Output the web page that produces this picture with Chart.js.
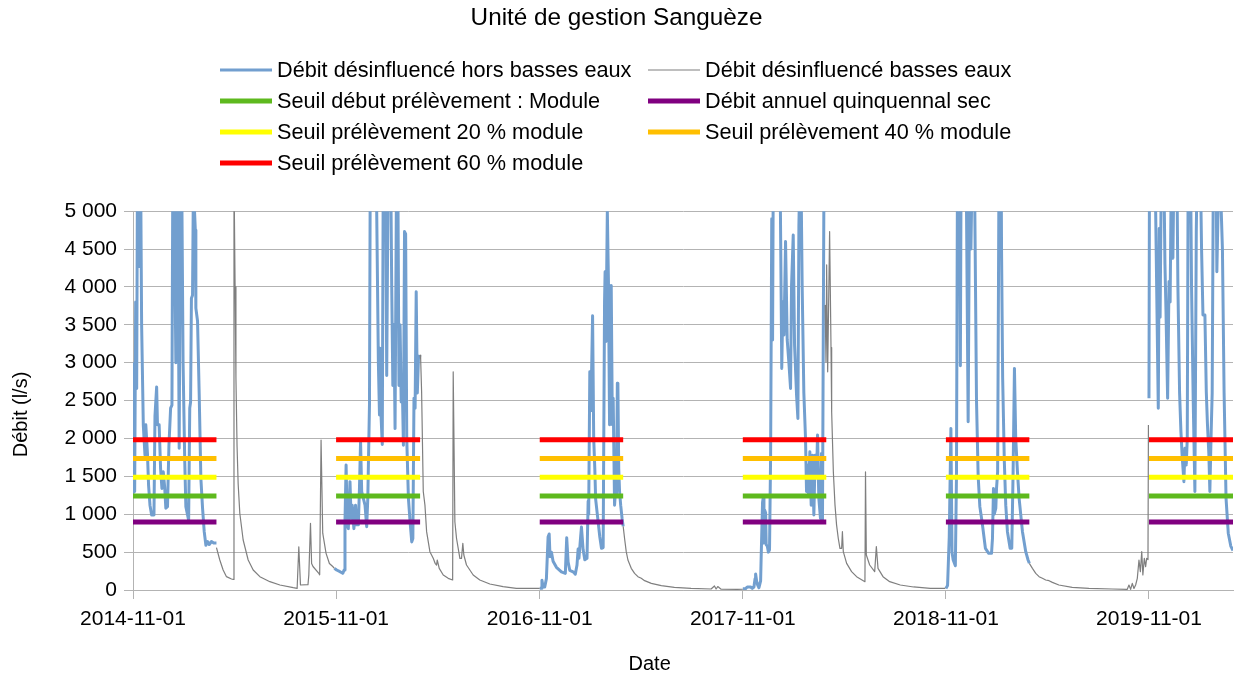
<!DOCTYPE html>
<html>
<head>
<meta charset="utf-8">
<script src="https://cdn.jsdelivr.net/npm/chart.js@4.4.1/dist/chart.umd.min.js"></script>
<style>
html,body{margin:0;padding:0;background:#fff;}
canvas{display:block;}
</style>
</head>
<body>
<canvas id="c" width="1234" height="674"></canvas>
<script>
// ---- Data (x = days since 2014-11-01, y = débit in l/s) ----
const tickDays = [0, 365, 731, 1096, 1461, 1826];
const xTickLabels = ['2014-11-01', '2015-11-01', '2016-11-01', '2017-11-01', '2018-11-01', '2019-11-01'];
const xMaxDay = 1977;

// Winter periods (hors basses eaux) : 1 Nov -> 31 Mar
const winterStarts = [0, 365, 731, 1096, 1461, 1826];
const winterEnds   = [150, 516, 881, 1246, 1611, 1977];

// Thresholds (l/s)
const seuilModule = 1240;
const seuil20 = 1488;
const seuil40 = 1736;
const seuil60 = 1984;
const debitQuinquennalSec = 897;

// Débit désinfluencé hors basses eaux (blue)
const winter2014 = [[0,1230],[1.8,2990],[3,1300],[4.8,3800],[6.6,2660],[8,5500],[10.5,4270],[12,5800],[14,5200],[15.5,3500],[18.5,2180],[21.5,1780],[23,2180],[26,1800],[28,1380],[30.5,1120],[33.5,990],[37.7,990],[39.5,2300],[42.5,2680],[44,2180],[47,2180],[49.6,1600],[52,1340],[54.4,1560],[57,1350],[59,1080],[62,1100],[64.6,1910],[67.6,2400],[70,2440],[71.8,6000],[74,5500],[77,3000],[80,6000],[83,1870],[86,6500],[88,5000],[90,3000],[93,1700],[95,1100],[100,920],[102,2400],[103.5,2480],[105,3850],[107,3890],[109,5800],[110,5100],[112,4750],[113,3720],[116,3550],[119,2570],[122,1470],[125,1080],[128,770],[131,590],[134,640],[137,600],[141,640],[145,620],[150,620]];
const winter2015 = [[362,286],[366,264],[372,242],[377,220],[379.4,264],[381,900],[383,1650],[385,860],[387,810],[390,1430],[392,945],[394,1120],[397,810],[400,1120],[402,860],[405,860],[407,1340],[409,1960],[411,1300],[414,1210],[417,1120],[420,835],[422,1210],[425,2440],[426.6,6000],[429,7000],[433,6500],[438,5000],[441,3000],[443,2310],[444,3190],[446,2265],[448,1920],[450,6000],[453,7000],[456,2830],[459,6000],[462,6500],[465,4000],[467,2700],[469,3500],[471,2130],[474,6000],[476,5500],[478,2700],[480,3500],[482,2480],[484,2700],[486,1910],[488,4730],[490,4700],[492,2000],[495,1210],[498,900],[501,635],[503,680],[505,2530],[507,2400],[509,3935],[511,2600],[513,3050],[516,3100]];
const winter2016 = [[731,22],[734,22],[735,130],[737,40],[740,40],[743,150],[746,700],[748,740],[749.5,440],[752,500],[755,380],[761,300],[770,240],[777,220],[779.5,690],[782,370],[785,260],[791,240],[795,210],[798,330],[800,540],[801.5,420],[804.5,700],[806,830],[809,530],[812,400],[816,420],[818,1170],[819,1000],[821,2880],[823,2370],[826,3620],[828,2000],[830,1600],[831.5,1200],[836,900],[839,700],[842,550],[845,560],[847.5,3800],[848.5,4200],[850,3280],[852.5,5000],[854.5,4070],[856.5,2180],[858.5,2600],[859.5,4020],[861.5,2180],[863,2530],[865.5,1120],[867.5,1340],[869,1250],[870.5,2730],[871.5,2700],[873,1600],[874.5,1300],[876.5,1120],[879,945],[881,840]];
const winter2017 = [[1096,18],[1101,18],[1104,40],[1110,40],[1113,22],[1116,40],[1118,150],[1119,210],[1121,110],[1123,60],[1125,30],[1128,120],[1129,440],[1131.5,1160],[1133,1230],[1134,620],[1135,1060],[1137,1020],[1138,600],[1140,580],[1142,500],[1144,530],[1146,1800],[1148,4900],[1149.5,3300],[1151,6000],[1154,6500],[1157,7000],[1160,6000],[1163,5500],[1166,2925],[1168,3800],[1170,3365],[1172.8,4600],[1175.8,3300],[1178.8,3000],[1181.8,2660],[1183.6,4025],[1186.6,4685],[1189,3230],[1192.6,2570],[1195,2265],[1196.8,4815],[1199.8,6000],[1202.7,4000],[1205.7,2600],[1208.7,2000],[1210.5,1300],[1212.3,1650],[1214,1253],[1216.5,1825],[1218.9,1120],[1221.3,1780],[1223.7,990],[1226,1780],[1228.5,1500],[1230.3,2045],[1232.6,1210],[1235.6,945],[1237.4,1800],[1239.2,930],[1240.4,3000],[1242.2,6000],[1244,5000]];
const winter2018 = [[1461,20],[1464,60],[1467,700],[1470,2130],[1472,500],[1474,400],[1478,320],[1480,1500],[1482,6000],[1485,6500],[1487,2960],[1488.5,6000],[1492,7000],[1497,6000],[1501,2220],[1504,6000],[1506,4500],[1509,6000],[1511,6500],[1513,5000],[1516,2500],[1519,1500],[1522,1100],[1526,900],[1532,550],[1538,484],[1543,484],[1544.7,680],[1546.5,1340],[1548,1000],[1550.7,1080],[1552,1340],[1554,1560],[1556.7,6000],[1559.7,6500],[1561,4500],[1563,2800],[1566,1700],[1568.6,1120],[1571.6,770],[1576.4,550],[1579.4,550],[1581.8,1560],[1584.2,2925],[1586.5,2000],[1589.6,1560],[1592.6,1210],[1598.6,770],[1604.5,506],[1608.7,396],[1611,352]];
const winter2019 = [[1826,2530],[1827,6000],[1835,6500],[1838,5000],[1842.7,2400],[1844.5,4770],[1846,3600],[1848.7,6000],[1852,6000],[1854.7,4300],[1856.5,3700],[1859.5,2530],[1862,4070],[1864,3800],[1866.7,6000],[1869,4380],[1871.5,6000],[1875,6500],[1878,4000],[1881,2600],[1883.4,2090],[1885.8,1750],[1888.8,1430],[1890.6,1870],[1893,1650],[1894.8,2000],[1896.6,6000],[1899.6,6500],[1902.5,4000],[1905.5,2500],[1908.5,1300],[1911,4730],[1913.3,6000],[1917.5,6000],[1920.5,4500],[1923,3630],[1926.5,3630],[1929,2617],[1931,2200],[1933.6,1800],[1935.4,1300],[1937.8,2100],[1939.6,2600],[1942,6000],[1945.6,6500],[1948,4200],[1952.8,6000],[1955,5200],[1958,4500],[1961,2600],[1964.5,1210],[1968.5,750],[1973,580],[1977,520]];

// Débit désinfluencé basses eaux (grey)
const summer2015 = [[150,560],[156,396],[162,264],[168,176],[177,145],[180,140],[181.5,5500],[183.5,4000],[185,2800],[187,1900],[189,1400],[192,1010],[198,660],[207,396],[216,264],[228,176],[246,110],[264,66],[288,31],[295,22],[298,571],[301,66],[314.5,70],[316,200],[319,880],[321,350],[323.5,310],[334,220],[335.5,200],[338,1980],[341,750],[347,484],[353,350],[359,310],[362,286]];
const summer2016 = [[516,3100],[517,3050],[518.7,2620],[521.7,1300],[524.7,1120],[527.7,770],[533.6,506],[539.6,418],[543,352],[545.6,330],[546.8,396],[550.4,286],[557.6,198],[566.5,154],[574.5,132],[575.5,2880],[578.5,900],[581.5,680],[587.5,418],[590.4,418],[592.8,616],[594.6,462],[599.4,330],[611.4,198],[623.3,132],[641.3,79],[665.2,44],[689,22],[725,22],[731,22]];
const summer2017 = [[881,840],[883.5,680],[886.5,506],[889.5,396],[895.5,286],[901.5,220],[907.5,176],[913.5,154],[919.5,123],[931.5,88],[949.5,57],[973,35],[1003,22],[1039,13],[1045,53],[1048,13],[1051,45],[1057,10],[1086,9],[1096,10]];
const summer2018 = [[1244,3760],[1245.5,3010],[1246.7,4290],[1248.5,2880],[1250.3,3800],[1252,4730],[1254.5,3200],[1255.7,2350],[1258.7,1560],[1261.7,1120],[1264.5,860],[1267.6,680],[1270.6,550],[1273.6,550],[1275,770],[1276.6,506],[1282.6,352],[1291.5,242],[1300.5,176],[1315.5,110],[1316.5,1560],[1318,462],[1324,330],[1333,242],[1336,572],[1339,286],[1348,176],[1360,110],[1379,66],[1403,40],[1433,22],[1460,22]];
const summer2019 = [[1611,352],[1616.5,286],[1622.5,220],[1628.5,176],[1634.4,154],[1640.4,132],[1646.4,123],[1652.4,101],[1664,66],[1688,35],[1718,22],[1760,13],[1787,9],[1790,66],[1793,9],[1796,88],[1799,20],[1802,66],[1805,154],[1808,396],[1810.5,242],[1813,506],[1815,198],[1817.6,418],[1820,308],[1821.8,418],[1824.2,400],[1825,2177]];

// ---- Helpers ----
const FONT = '"Liberation Sans", Arial, Helvetica, sans-serif';
function joinSeasons(list) {
  const out = [];
  list.forEach((s, i) => {
    if (i) out.push({x: s[0][0], y: null});
    s.forEach(([d, q]) => out.push({x: d, y: q}));
  });
  return out;
}
function thresholdData(v) {
  const out = [];
  winterStarts.forEach((s, i) => {
    out.push({x: s, y: v}, {x: winterEnds[i], y: v}, {x: winterEnds[i], y: null});
  });
  return out;
}
const fmtThousands = v => String(v).replace(/\B(?=(\d{3})+(?!\d))/g, ' ');

const gridLegend = {
  id: 'gridLegend',
  afterDraw(chart, args, o) {
    const ctx = chart.ctx;
    ctx.save();
    ctx.font = o.fontSize + 'px ' + FONT;
    ctx.textBaseline = 'middle';
    ctx.textAlign = 'left';
    chart.data.datasets.forEach((ds, i) => {
      const col = i % 2, row = Math.floor(i / 2);
      const x = o.columns[col], y = o.top + row * o.rowHeight;
      ctx.strokeStyle = ds.borderColor;
      ctx.lineWidth = ds.borderWidth;
      ctx.lineCap = 'butt';
      ctx.beginPath();
      ctx.moveTo(x, y);
      ctx.lineTo(x + o.lineLength, y);
      ctx.stroke();
      ctx.fillStyle = '#000';
      ctx.fillText(ds.label, x + o.lineLength + o.gap, y + 1);
    });
    ctx.restore();
  }
};

const lineBase = {pointRadius: 0, tension: 0, spanGaps: false, borderJoinStyle: 'round', fill: false};

new Chart(document.getElementById('c'), {
  type: 'line',
  data: {
    datasets: [
      {...lineBase, label: 'Débit désinfluencé hors basses eaux', data: joinSeasons([winter2014, winter2015, winter2016, winter2017, winter2018, winter2019]), borderColor: '#729fcf', borderWidth: 3, order: 10},
      {...lineBase, label: 'Débit désinfluencé basses eaux', data: joinSeasons([summer2015, summer2016, summer2017, summer2018, summer2019]), borderColor: '#7f7f7f', borderWidth: 1.2, order: 9},
      {...lineBase, label: 'Seuil début prélèvement : Module', data: thresholdData(seuilModule), borderColor: '#5eb91e', borderWidth: 5, borderCapStyle: 'butt', order: 1},
      {...lineBase, label: 'Débit annuel quinquennal sec', data: thresholdData(debitQuinquennalSec), borderColor: '#800080', borderWidth: 5, borderCapStyle: 'butt', order: 1},
      {...lineBase, label: 'Seuil prélèvement 20 % module', data: thresholdData(seuil20), borderColor: '#ffff00', borderWidth: 5, borderCapStyle: 'butt', order: 1},
      {...lineBase, label: 'Seuil prélèvement 40 % module', data: thresholdData(seuil40), borderColor: '#ffbf00', borderWidth: 5, borderCapStyle: 'butt', order: 1},
      {...lineBase, label: 'Seuil prélèvement 60 % module', data: thresholdData(seuil60), borderColor: '#ff0000', borderWidth: 5, borderCapStyle: 'butt', order: 1}
    ]
  },
  options: {
    responsive: false,
    animation: false,
    devicePixelRatio: 1,
    layout: {padding: {left: 0, right: 1, top: 0, bottom: 0}},
    plugins: {
      legend: {display: false},
      tooltip: {enabled: false},
      title: {
        display: true,
        text: 'Unité de gestion Sanguèze',
        color: '#000',
        font: {family: FONT, size: 24.3, weight: 'normal', lineHeight: 1.2},
        padding: {top: 4, bottom: 178}
      },
      gridLegend: {columns: [220, 648], top: 70, rowHeight: 31, lineLength: 52, gap: 5, fontSize: 21.7}
    },
    scales: {
      x: {
        type: 'linear',
        min: 0,
        max: xMaxDay,
        afterBuildTicks: s => { s.ticks = tickDays.map(v => ({value: v})); },
        afterFit: s => { s.height = 84; },
        ticks: {
          autoSkip: false, maxRotation: 0, minRotation: 0, padding: 8, color: '#000',
          font: {family: FONT, size: 21},
          callback: v => xTickLabels[tickDays.indexOf(v)]
        },
        grid: {drawOnChartArea: false, drawTicks: true, tickLength: 9, color: '#b3b3b3'},
        border: {display: true, color: '#b3b3b3'},
        title: {display: true, text: 'Date            ', color: '#000', font: {family: FONT, size: 20, lineHeight: 1}, padding: {top: 0, bottom: 0}}
      },
      y: {
        min: 0,
        max: 5000,
        afterFit: s => { s.width = 133; },
        ticks: {stepSize: 500, padding: 7, color: '#000', font: {family: FONT, size: 21}, callback: v => fmtThousands(v)},
        grid: {color: '#b3b3b3', tickLength: 9},
        border: {display: true, color: '#b3b3b3'},
        title: {display: true, text: 'Débit (l/s)     ', color: '#000', font: {family: FONT, size: 20, lineHeight: 1.2}, padding: {top: 9, bottom: 0}}
      }
    }
  },
  plugins: [gridLegend]
});
</script>
</body>
</html>
